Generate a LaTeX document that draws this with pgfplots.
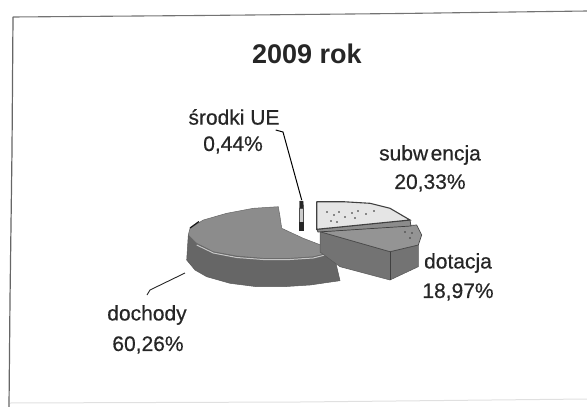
\documentclass[border=0pt]{standalone}
\usepackage{fontspec}
\setmainfont{Liberation Sans}
\newfontfamily\lblfont[FakeBold=0.5]{Liberation Sans}
\usepackage{pgfplots}
\pgfplotsset{compat=1.18}
\definecolor{txt}{gray}{0.15}
\tikzset{lbl/.style={font=\lblfont\fontsize{21}{23}\selectfont,text=txt,anchor=center,inner sep=0pt}}
\begin{document}
\begin{tikzpicture}
\begin{axis}[scale only axis,width=587pt,height=407pt,xmin=0,xmax=587,ymin=0,ymax=407,y dir=reverse,axis lines=none,clip=true,
  every axis plot/.append style={mark=none}]
\path (axis cs:0,0) (axis cs:587,407);
% frame
\addplot[draw=black!55,line width=1.1pt] coordinates {(13,17) (200,15.5) (400,13.5) (587,11)};
\addplot[draw=black!60,line width=1.2pt] coordinates {(13,17) (12,150) (10,300) (9,407)};
\addplot[draw=black!12,line width=1pt] coordinates {(10,403) (300,402) (587,399)};
% dochody side
\addplot[fill=black!60,draw=black!65,line width=0.5pt] coordinates {
(188.3,235) (186.7,260) (195,270) (206.7,276.7) (230,283.3) (256.7,286.7) (283.3,286.7) (310,285) (340,280.7) (333.3,251.7) (313.3,256.7) (290,258.3) (263.3,258.3) (236.7,256) (213.3,251.7) (196.7,243.3) (188.3,235)};
% dochody top
\addplot[fill=black!45,draw=black!60,line width=0.5pt] coordinates {
(278.3,206.7) (253.3,208.3) (226.7,213.3) (203.3,220) (190,228.3) (188.3,235) (196.7,243.3) (213.3,251.7) (236.7,256) (263.3,258.3) (290,258.3) (313.3,256.7) (333.3,251.7) (326.7,247.3) (303.3,238.3) (281.7,228.3) (280,216.7) (278.3,206.7)};
\addplot[draw=black!22,line width=1pt] coordinates {(196.7,245) (213.3,253) (236.7,257.5) (263.3,259.5) (290,259.5) (313.3,258) (333,253)};
\addplot[draw=black!90,line width=1.2pt] coordinates {(190,228) (199,221.5)};
% sliver
\addplot[fill=black!85,draw=black!85] coordinates {(299.5,201) (303,201) (303.5,208) (299.5,208) (299.5,201)};
\addplot[fill=black!20,draw=black!70,line width=0.5pt] coordinates {(299.5,208) (303.5,208) (303.5,222) (299.5,222) (299.5,208)};
\addplot[fill=black!85,draw=black!85] coordinates {(299.5,222) (303.5,222) (303.5,230) (299.5,230) (299.5,222)};
% dotacja sides
\addplot[fill=black!55,draw=black!65,line width=0.5pt] coordinates {
(320,231.7) (320,252) (340,266.7) (390,280) (418.3,266.7) (418.3,245) (390,251.7) (320,231.7)};
\addplot[draw=black!75,line width=0.6pt] coordinates {(390,251.7) (390,280)};
% dotacja top
\addplot[fill=black!42,draw=black!72,line width=0.7pt] coordinates {
(320,231.7) (416.7,225) (421.7,235) (418.3,245) (390,251.7) (320,231.7)};
% subwencja side and top
\addplot[fill=black!45,draw=black!75,line width=0.7pt] coordinates {(316.7,229.3) (410,220) (411,226) (318,232) (316.7,229.3)};
\addplot[fill=black!10,draw=black!75,line width=1.1pt] coordinates {
(316.7,201.7) (343.3,201.7) (370,203.3) (390,208.3) (410,220) (316.7,229.3) (316.7,201.7)};
\addplot[only marks,mark=*,mark size=0.6pt,black!70] coordinates {(327,212)(334,215)(339,212)(331,221)(345,217)(352,213)(358,211)(366,214)(374,211)(337,222)(355,218)(405,232)(410,238)(412,233)};
% leaders
\addplot[draw=black,line width=1pt] coordinates {(275.7,130) (283,132) (301.7,200)};
\addplot[draw=black!85,line width=0.9pt] coordinates {(185,273) (150,290) (147,295)};
% text
\node[anchor=center,inner sep=0pt,text=txt,font=\fontsize{27}{29}\selectfont\bfseries] at (axis cs:307,54) {2009 rok};
\node[lbl] at (axis cs:234,117) {środki UE};
\node[lbl] at (axis cs:233,145) {0,44\%};
\node[lbl] at (axis cs:430,155) {subw\kern2.5pt encja};
\node[lbl] at (axis cs:430,183) {20,33\%};
\node[lbl] at (axis cs:458,263) {dotacja};
\node[lbl] at (axis cs:458,292) {18,97\%};
\node[lbl] at (axis cs:147,315) {dochody};
\node[lbl] at (axis cs:148,345) {60,26\%};
\end{axis}
\end{tikzpicture}
\end{document}
